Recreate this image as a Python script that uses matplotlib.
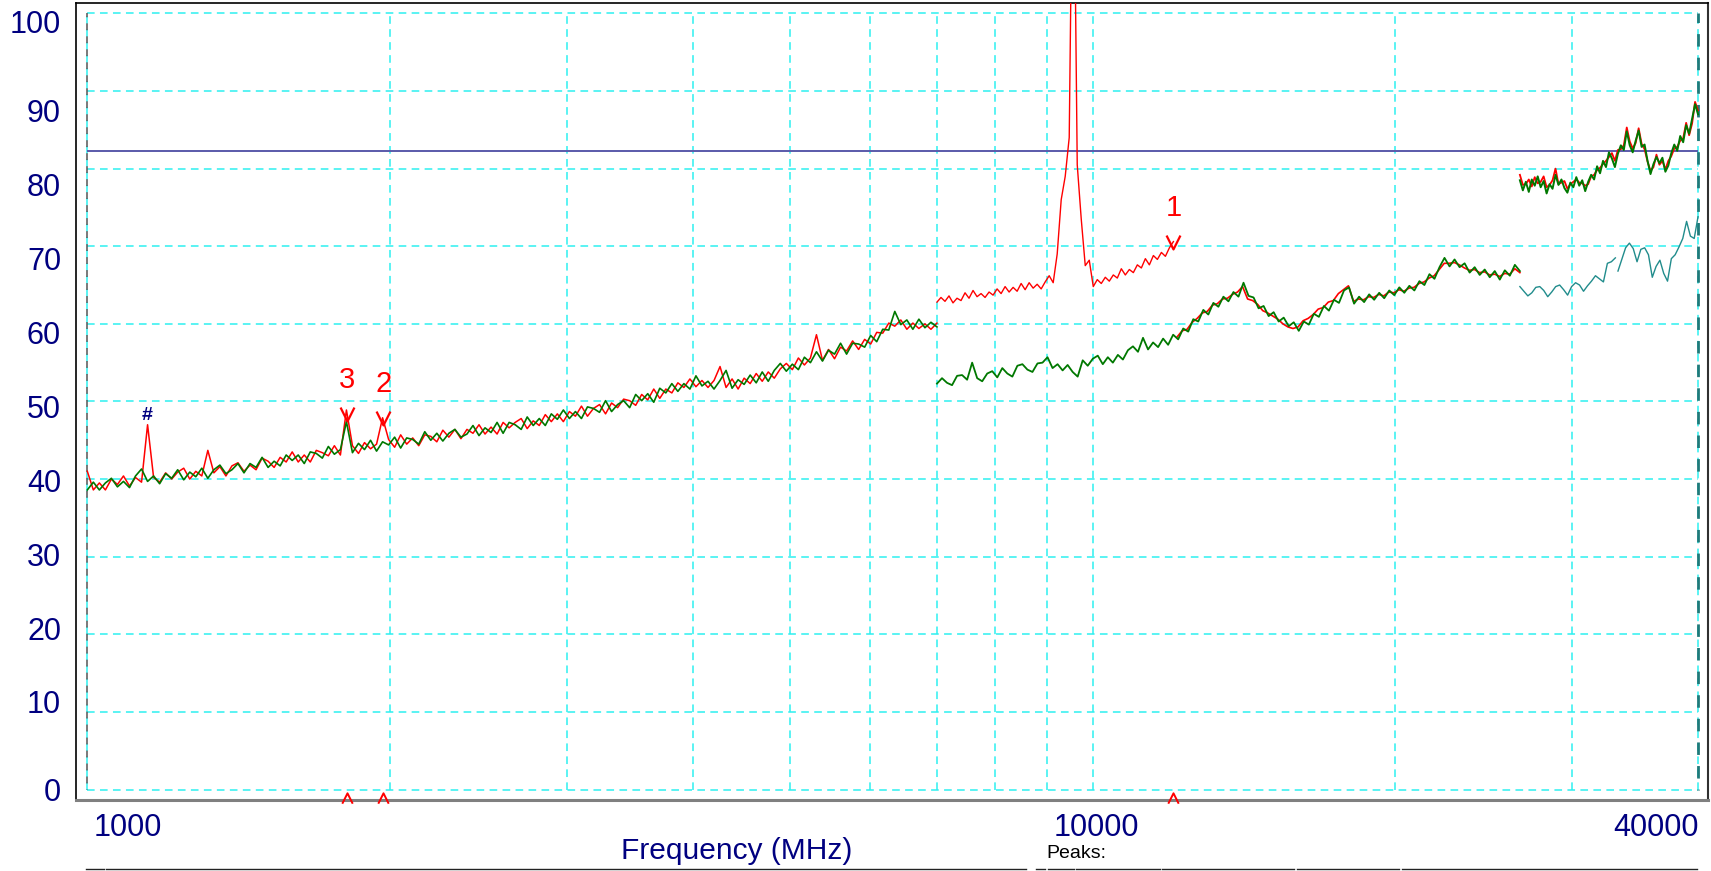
import numpy as np
import matplotlib
matplotlib.use("Agg")
import matplotlib.pyplot as plt
from matplotlib.lines import Line2D
from matplotlib.ticker import NullLocator

plt.rcParams['font.family'] = ['Liberation Sans', 'DejaVu Sans']

# sweep spans (MHz) and levels (dBuV/m)
span_a = (1000, 7000)
green_a = [38.6, 39.6, 38.6, 39.5, 40.1, 39.0, 39.7, 38.9, 40.4, 41.3,
           39.7, 40.4, 39.4, 40.7, 40.1, 41.2, 39.9, 40.9, 40.3, 41.4,
           40.1, 41.2, 41.8, 40.7, 41.2, 42.0, 40.8, 42.0, 41.5, 42.8,
           41.5, 42.3, 41.7, 43.1, 42.4, 43.1, 42.0, 43.5, 43.3, 42.7,
           44.2, 43.2, 43.8, 47.4, 43.4, 44.6, 43.8, 45.0, 43.6, 44.8,
           44.4, 45.4, 44.0, 45.3, 45.1, 44.5, 46.1, 45.0, 45.9, 44.9,
           45.9, 46.4, 45.4, 45.8, 46.9, 45.6, 46.6, 46.0, 47.3, 45.9,
           47.3, 47.0, 46.4, 48.0, 46.9, 47.8, 46.9, 48.4, 47.7, 48.9,
           47.8, 48.7, 47.8, 49.3, 49.1, 48.6, 50.1, 48.7, 49.6, 50.1,
           49.2, 50.9, 50.1, 51.0, 49.9, 51.7, 51.1, 52.3, 51.3, 52.3,
           51.6, 53.3, 52.0, 52.6, 51.6, 52.7, 54.0, 51.7, 52.8, 52.2,
           53.4, 52.4, 53.8, 52.6, 54.0, 54.9, 53.9, 54.8, 54.1, 55.7,
           55.0, 56.4, 55.2, 56.6, 56.1, 57.5, 56.1, 57.5, 57.4, 57.0,
           58.5, 57.7, 59.3, 59.2, 61.6, 59.9, 60.5, 59.3, 60.6, 59.5,
           60.2, 59.6]
red_a = [41.0, 38.6, 39.5, 38.6, 40.0, 39.3, 40.4, 39.1, 40.2, 39.6,
         47.0, 40.2, 39.6, 40.8, 40.0, 40.9, 41.4, 40.0, 41.0, 40.4,
         43.7, 40.8, 41.6, 40.4, 41.7, 42.1, 41.0, 41.8, 41.2, 42.7,
         42.3, 41.5, 42.8, 42.2, 43.5, 42.2, 43.1, 42.2, 43.7, 43.4,
         43.0, 44.3, 43.1, 48.9, 44.3, 43.3, 44.7, 43.9, 44.5, 47.9,
         45.1, 44.1, 45.7, 44.5, 45.3, 44.3, 45.7, 45.5, 44.8, 46.3,
         45.4, 46.4, 45.2, 46.4, 45.9, 47.0, 45.8, 46.7, 45.8, 47.3,
         46.6, 47.3, 47.8, 46.5, 47.5, 46.9, 48.3, 47.4, 48.4, 47.4,
         48.7, 48.1, 49.4, 48.1, 49.1, 49.6, 48.4, 49.8, 49.2, 50.3,
         50.1, 49.5, 50.9, 50.2, 51.6, 50.4, 51.6, 51.1, 52.4, 51.8,
         52.9, 51.9, 52.7, 51.8, 52.7, 54.5, 51.8, 52.9, 51.6, 53.0,
         52.3, 53.6, 52.6, 53.8, 53.0, 54.2, 54.9, 54.1, 55.6, 54.7,
         55.6, 58.6, 55.3, 56.7, 55.5, 57.0, 56.5, 57.8, 56.7, 58.0,
         57.4, 58.9, 58.8, 60.1, 59.7, 60.5, 59.3, 60.1, 59.4, 60.0,
         59.3, 60.1]

span_b1 = (7000, 12030)
red_b1 = [62.8, 63.4, 62.9, 63.6, 62.7, 63.3, 63.0, 64.0, 63.3, 64.3,
          63.5, 63.9, 63.4, 64.1, 63.7, 64.5, 63.9, 64.8, 64.1, 64.7,
          64.2, 65.2, 64.4, 65.3, 64.6, 65.1, 64.5, 65.4, 66.2, 65.3,
          69.0, 76.0, 79.0, 84.0, 130.0, 80.5, 73.5, 67.5, 68.2, 64.8,
          65.7, 65.2, 66.0, 65.5, 66.3, 65.9, 67.1, 66.3, 67.0, 66.6,
          67.6, 67.2, 68.4, 67.6, 68.8, 68.3, 69.2, 68.7, 69.8, 70.6]

span_b = (7000, 26600)
green_b = [52.3, 53.0, 52.4, 52.1, 53.3, 53.4, 52.8, 55.0, 53.0, 52.6,
           53.6, 53.9, 53.1, 54.3, 53.6, 53.2, 54.6, 54.8, 54.1, 53.8,
           54.9, 55.0, 55.7, 54.3, 54.8, 54.0, 54.7, 53.8, 53.2, 55.3,
           54.6, 55.5, 55.9, 54.8, 55.7, 55.0, 56.0, 55.4, 56.6, 57.1,
           56.4, 58.2, 56.7, 57.6, 57.0, 58.1, 57.3, 58.6, 58.0, 59.4,
           59.0, 60.6, 60.3, 61.8, 61.2, 62.7, 62.2, 63.5, 62.9, 64.1,
           63.5, 65.3, 63.6, 63.4, 62.0, 62.3, 61.0, 61.5, 60.3, 60.8,
           59.7, 60.2, 59.1, 60.3, 59.9, 61.3, 60.9, 62.3, 61.7, 63.1,
           62.7, 64.3, 64.7, 62.6, 63.5, 62.8, 63.8, 63.1, 64.0, 63.3,
           64.3, 63.7, 64.7, 64.0, 64.9, 64.3, 65.5, 65.0, 66.4, 65.8,
           67.3, 68.5, 67.4, 68.3, 67.3, 67.8, 66.6, 67.3, 66.3, 67.0,
           66.0, 66.8, 65.7, 66.9, 66.2, 67.6, 66.8]
span_b2 = (12130, 26600)
red_b2 = [58.3, 59.1, 59.3, 60.2, 60.7, 61.4, 61.6, 62.4, 62.6, 63.2,
          63.3, 63.8, 64.1, 64.8, 63.2, 63.0, 62.5, 61.7, 61.4, 61.0,
          60.6, 60.0, 59.6, 59.4, 59.6, 60.4, 60.7, 61.2, 61.9, 62.1,
          62.8, 63.0, 63.9, 64.4, 64.9, 62.9, 63.2, 63.1, 63.5, 63.4,
          63.8, 63.6, 64.1, 64.0, 64.4, 64.2, 64.6, 64.7, 65.2, 65.4,
          65.9, 66.2, 67.0, 67.8, 67.8, 67.9, 67.6, 67.2, 66.9, 67.0,
          66.6, 66.7, 66.3, 66.4, 66.1, 66.5, 66.4, 67.1, 66.6]

span_c = (26600, 40000)
green_c = [78.5, 77.2, 78.3, 77.0, 78.6, 77.8, 79.0, 77.6, 78.4, 76.8,
           78.0, 77.4, 79.2, 77.9, 78.6, 77.5, 76.9, 78.2, 77.6, 78.9,
           77.8, 78.5, 77.1, 78.3, 79.2, 78.6, 80.3, 79.4, 81.0, 80.2,
           82.1, 81.3, 80.2, 81.9, 83.0, 82.4, 84.8, 83.0, 82.1, 83.6,
           84.9, 82.8, 83.1, 81.0, 79.3, 80.6, 81.5, 80.7, 81.4, 79.6,
           80.4, 82.0, 83.1, 82.3, 84.2, 83.4, 85.6, 84.5, 86.4, 88.3,
           87.0]
red_c = [79.2, 77.9, 78.0, 78.6, 77.7, 78.9, 78.1, 78.3, 79.0, 77.6,
         77.9, 78.5, 80.0, 78.0, 78.2, 78.4, 77.4, 78.0, 78.3, 78.6,
         78.2, 78.1, 77.8, 78.0, 79.0, 79.2, 79.8, 80.1, 80.6, 81.0,
         81.5, 82.0, 81.0, 82.4, 82.5, 83.0, 85.3, 83.5, 82.6, 83.3,
         85.2, 83.2, 82.5, 80.9, 79.7, 80.2, 81.8, 80.5, 81.0, 79.9,
         81.0, 81.6, 82.6, 82.8, 83.6, 83.9, 85.9, 84.3, 85.8, 88.6,
         87.5]
span_c1 = (26600, 33100)
teal_c1 = [64.8, 64.2, 63.6, 64.0, 64.7, 64.8, 64.3, 63.5, 64.1, 64.8,
           65.0, 64.4, 63.7, 64.8, 65.3, 65.0, 64.2, 64.9, 65.5, 66.2,
           65.8, 65.4, 67.8, 68.0, 68.5]
span_c2 = (33300, 40000)
teal_c2 = [66.8, 68.3, 69.8, 70.4, 69.7, 68.0, 69.6, 69.8, 68.9, 66.0,
           67.4, 68.2, 66.5, 65.5, 68.4, 68.9, 69.9, 71.0, 73.2, 71.3,
           71.0, 73.8]

limit_level = 82.3
marker_ids = ['1', '2', '3']
marker_freqs = [12030, 1969, 1813]
marker_levels = [70.6, 47.9, 48.4]
hash_freq = 1147
hash_level = 47.0

grid_freqs = [1000, 2000, 3000, 4000, 5000, 6000, 7000, 8000, 9000,
              10000, 20000, 30000, 40000]
ytick_values = [0, 10, 20, 30, 40, 50, 60, 70, 80, 90, 100]
xtick_freqs = [1000, 10000, 40000]
xtick_labels = ['1000', '10000', '40000']

NAVY = '#000080'
CYAN = '#2EF0F0'
RED = '#FF0000'
GREEN = '#007800'
TEAL = '#218C8C'
DASH = (0, (5, 3.5))


def sweep(span, vals):
    return np.geomspace(span[0], span[1], len(vals))


fig = plt.figure(figsize=(17.11, 8.71), dpi=100)
ax = fig.add_axes([0.04465, 0.08152, 0.9536, 0.91469])
ax.set_xscale('log')
ax.set_xlim(975.3, 40925)
ax.set_ylim(-1.35, 101.3)
ax.xaxis.set_minor_locator(NullLocator())
ax.set_xticks([])

# grid inside the data box only
ax.vlines(grid_freqs, 0, 100, colors=CYAN, linestyles=[DASH], lw=1.1, zorder=1)
ax.hlines(ytick_values, 1000, 40000, colors=CYAN, linestyles=[DASH], lw=1.1, zorder=1)
ax.vlines(1000, 0, 100, colors='#555555', linestyles=[(4.2, (4.5, 4))], lw=1.1, zorder=2)
ax.vlines(40000, 0, 100, colors='#1F7A7A', linestyles=[(4.2, (4.5, 4))], lw=2.0, zorder=2)

ax.hlines(limit_level, 1000, 40000, colors='#5A5AAA', lw=1.4, zorder=3)

# traces
ax.plot(sweep(span_a, red_a), red_a, color=RED, lw=1.1, zorder=4)
ax.plot(sweep(span_a, green_a), green_a, color=GREEN, lw=1.2, zorder=5)
ax.plot(sweep(span_b1, red_b1), red_b1, color=RED, lw=1.0, zorder=4)
ax.plot(sweep(span_b2, red_b2), red_b2, color=RED, lw=1.2, zorder=4)
ax.plot(sweep(span_b, green_b), green_b, color=GREEN, lw=1.3, zorder=5)
ax.plot(sweep(span_c, red_c), red_c, color=RED, lw=1.3, zorder=4)
ax.plot(sweep(span_c, green_c), green_c, color=GREEN, lw=1.4, zorder=5)
ax.plot(sweep(span_c1, teal_c1), teal_c1, color=TEAL, lw=1.0, zorder=4)
ax.plot(sweep(span_c2, teal_c2), teal_c2, color=TEAL, lw=1.0, zorder=4)

# peak markers
v_shape = [(-1, 1), (0, -1), (1, 1)]
caret = [(-1, -1), (0, 1), (1, -1)]
ax.plot(marker_freqs, marker_levels, ls='none', marker=v_shape, ms=10,
        mfc='none', mec=RED, mew=1.6, zorder=6)
for mid, f, lvl in zip(marker_ids, marker_freqs, marker_levels):
    ax.annotate(mid, (f, lvl), xytext=(0, 34), textcoords='offset pixels',
                ha='center', va='center', color=RED, fontsize=21)
ax.plot(marker_freqs, np.full(len(marker_freqs), 0.0025),
        transform=ax.get_xaxis_transform(), ls='none', marker=caret, ms=7.5,
        mfc='none', mec=RED, mew=1.4, clip_on=False, zorder=7)
ax.annotate('#', (hash_freq, hash_level), xytext=(0, 9), textcoords='offset pixels',
            ha='center', va='center', color=NAVY, fontsize=14, fontweight='bold')

# axis labels (the analyser software spaces them its own way)
label_pos = [49.36 + (v - 50) * 0.952 for v in ytick_values]
label_pos[0] = -0.06
label_pos[-1] = 98.99
ax.set_yticks(label_pos)
ax.set_yticklabels([str(v) for v in ytick_values], color=NAVY, fontsize=22)
ax.tick_params(axis='y', length=0, pad=11)

for lab, f, ha, dx in zip(xtick_labels, xtick_freqs, ['center', 'center', 'right'], [40, 4, 1]):
    ax.annotate(lab, (f, 0), xycoords=('data', 'axes fraction'), xytext=(dx, -28),
                textcoords='offset pixels', ha=ha, va='center', color=NAVY, fontsize=22)

for side in ['left', 'top']:
    ax.spines[side].set_color('black')
    ax.spines[side].set_linewidth(1.2)
ax.spines['bottom'].set_color('#808080')
ax.spines['bottom'].set_linewidth(2.2)
ax.spines['right'].set_color('#303030')
ax.spines['right'].set_linewidth(1.5)

fig.text(736.6 / 1711, 1 - 851 / 871, 'Frequency (MHz)', ha='center', va='center',
         color=NAVY, fontsize=21.5)
fig.text(1046 / 1711, 1 - 853.7 / 871, 'Peaks:', ha='left', va='center',
         color='black', fontsize=14)

# table header rules at the bottom edge
for x0, x1 in [(86, 104), (106, 1026), (1036, 1045), (1048, 1074), (1076, 1160),
               (1162, 1294), (1297, 1399), (1402, 1697)]:
    fig.add_artist(Line2D([x0 / 1711, x1 / 1711], [1 - 869 / 871] * 2,
                          color='#222222', lw=1.0))

fig.savefig('out.png', dpi=100)
